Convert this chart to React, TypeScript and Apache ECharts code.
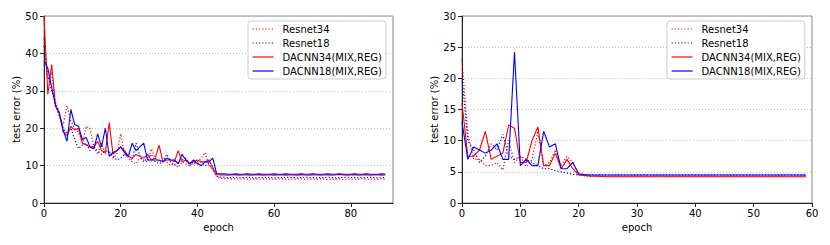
import React, { useEffect, useRef } from "react";
import * as echarts from "echarts";

const seriesNames = ["Resnet34", "Resnet18", "DACNN34(MIX,REG)", "DACNN18(MIX,REG)"];

// Left panel (epochs 0..89)
const leftResnet34 = [
  44, 33, 35, 26, 23, 21, 26, 22, 20, 19, 16, 20.5, 20, 15, 13, 16, 13, 14, 12, 13,
  18.5, 13, 12, 11, 10.5, 12, 11.5, 11, 14.5, 12, 11, 12, 11, 10, 10.5, 9.5, 11, 10.5, 10, 10.5,
  11, 12, 13.5, 10, 9, 7, 6.6, 6.5, 6.5, 6.4, 6.5, 6.4, 6.5, 6.4, 6.4, 6.5, 6.3, 6.4, 6.5, 6.4,
  6.3, 6.4, 6.5, 6.4, 6.3, 6.4, 6.4, 6.5, 6.3, 6.4, 6.4, 6.3, 6.5, 6.4, 6.3, 6.4, 6.4, 6.5, 6.3, 6.4,
  6.4, 6.3, 6.4, 6.5, 6.4, 6.3, 6.4, 6.4, 6.5, 6.3,
];
const leftResnet18 = [
  42, 34, 30, 27, 24, 20, 18.5, 20, 17, 14.5, 15.5, 16, 14, 15, 14, 13, 14, 13.5, 12.5, 11.5,
  12, 13, 12.5, 11.5, 16, 12.5, 11, 12, 13, 11, 10.5, 11, 13, 11, 10, 11, 11.5, 12, 10, 11,
  10.5, 11, 10, 10.5, 9, 7.2, 6.9, 6.9, 6.8, 6.8, 6.9, 6.8, 6.8, 6.9, 6.8, 6.7, 6.8, 6.8, 6.9, 6.8,
  6.7, 6.8, 6.8, 6.9, 6.8, 6.8, 6.7, 6.8, 6.9, 6.8, 6.8, 6.7, 6.8, 6.8, 6.9, 6.8, 6.7, 6.8, 6.8, 6.9,
  6.8, 6.8, 6.7, 6.8, 6.8, 6.9, 6.8, 6.7, 6.8, 6.8,
];
const leftDacnn34 = [
  50, 29, 37, 26, 24, 19, 18, 20.5, 19.5, 20, 16, 15.5, 15, 15, 16.5, 14, 13.5, 21.5, 13, 14,
  15, 14, 12.5, 12, 13, 12.5, 12, 13, 11.5, 12, 15.5, 11, 11.5, 11.5, 11, 14, 11, 11.5, 10.5, 11,
  11.5, 11, 11, 11.5, 9.5, 7.6, 7.5, 7.5, 7.4, 7.5, 7.5, 7.4, 7.5, 7.5, 7.4, 7.5, 7.5, 7.4, 7.5, 7.5,
  7.4, 7.5, 7.5, 7.4, 7.5, 7.5, 7.4, 7.5, 7.5, 7.4, 7.5, 7.5, 7.4, 7.5, 7.5, 7.4, 7.5, 7.6, 7.5, 7.4,
  7.5, 7.5, 7.4, 7.5, 7.5, 7.4, 7.5, 7.5, 7.4, 7.5,
];
const leftDacnn18 = [
  38, 36, 31, 26, 24, 19.5, 16.5, 25, 21, 20.5, 17, 17.5, 15, 14.5, 18.5, 15, 20, 12.5, 13.5, 14,
  15, 13.5, 12.5, 16, 14, 15, 16, 11.5, 11.5, 11.5, 11.5, 11, 12, 11.5, 11.5, 10.5, 13, 11.5, 10.5, 11.5,
  10.5, 10, 11, 11, 12, 7.9, 7.8, 7.8, 7.7, 7.7, 7.8, 7.7, 7.7, 7.8, 7.7, 7.7, 7.8, 7.7, 7.7, 7.7,
  7.8, 7.7, 7.7, 7.8, 7.7, 7.7, 7.7, 7.8, 7.7, 7.7, 7.8, 7.7, 7.7, 7.7, 7.8, 7.7, 7.7, 7.8, 7.7, 7.7,
  7.7, 7.8, 7.7, 7.7, 7.8, 7.7, 7.7, 7.7, 7.8, 7.7,
];

// Right panel (epochs 0..59)
const rightResnet34 = [
  23, 11, 7, 7, 6, 6, 6.5, 5.3, 10, 6.5, 7.5, 5.8, 7, 11.5, 6, 6.5, 8.5, 6, 7.5, 6.5,
  4.5, 4.35, 4.3, 4.3, 4.3, 4.25, 4.3, 4.3, 4.25, 4.3, 4.3, 4.3, 4.25, 4.3, 4.3, 4.3, 4.25, 4.3, 4.3, 4.3,
  4.25, 4.3, 4.3, 4.3, 4.25, 4.3, 4.3, 4.3, 4.25, 4.3, 4.3, 4.3, 4.25, 4.3, 4.3, 4.3, 4.25, 4.3, 4.3, 4.3,
];
const rightResnet18 = [
  20, 10, 8.5, 6.5, 7.5, 9.5, 8.5, 11, 7.5, 7, 7.5, 7, 6.5, 6, 5.5, 5.5, 5.2, 5, 4.8, 4.6,
  4.5, 4.5, 4.5, 4.5, 4.5, 4.5, 4.5, 4.5, 4.5, 4.5, 4.5, 4.5, 4.5, 4.5, 4.5, 4.5, 4.5, 4.5, 4.5, 4.5,
  4.5, 4.5, 4.5, 4.5, 4.5, 4.5, 4.5, 4.5, 4.5, 4.5, 4.5, 4.5, 4.5, 4.5, 4.5, 4.5, 4.5, 4.5, 4.5, 4.5,
];
const rightDacnn34 = [
  16, 7.5, 7.5, 8.5, 11.5, 7, 7.5, 8, 12.5, 12, 6.5, 6.5, 10, 12.2, 6, 6, 8, 5.5, 7, 5.5,
  4.5, 4.4, 4.3, 4.3, 4.25, 4.2, 4.2, 4.2, 4.2, 4.2, 4.2, 4.2, 4.2, 4.2, 4.2, 4.2, 4.2, 4.2, 4.2, 4.2,
  4.2, 4.2, 4.2, 4.2, 4.2, 4.2, 4.2, 4.2, 4.2, 4.2, 4.2, 4.2, 4.2, 4.2, 4.2, 4.2, 4.2, 4.2, 4.2, 4.2,
];
const rightDacnn18 = [
  13, 7, 9, 8.5, 8, 8.5, 9.5, 7, 7, 24.2, 6, 7, 6, 6, 11.5, 9, 9.5, 5.5, 5.5, 6.5,
  4.7, 4.55, 4.5, 4.5, 4.5, 4.5, 4.5, 4.5, 4.5, 4.5, 4.5, 4.5, 4.5, 4.5, 4.5, 4.5, 4.5, 4.5, 4.5, 4.5,
  4.5, 4.5, 4.5, 4.5, 4.5, 4.5, 4.5, 4.5, 4.5, 4.5, 4.5, 4.5, 4.5, 4.5, 4.5, 4.5, 4.5, 4.5, 4.5, 4.5,
];

const leftXTicks = [0, 20, 40, 60, 80];
const rightXTicks = [0, 10, 20, 30, 40, 50, 60];

const FONT = "DejaVu Sans";
const FS = 10;
const RED = "#ff0000";
const BLUE = "#0000ff";
const DOT: number[] = [1.2, 2];

const toPts = (arr: number[]) => arr.map((v, i) => [i, v]);

function mkSeries(name: string, data: number[], color: string, dotted: boolean, idx: number) {
  return {
    type: "line",
    name,
    data: toPts(data),
    xAxisIndex: idx,
    yAxisIndex: idx,
    symbol: "none",
    showSymbol: false,
    smooth: false,
    lineStyle: { color, width: dotted ? 1.2 : 1.1, type: dotted ? DOT : "solid" },
    itemStyle: { color },
  };
}

function xAxis(idx: number, max: number, ticks: number[]) {
  return {
    type: "value",
    gridIndex: idx,
    min: 0,
    max,
    name: "epoch",
    nameLocation: "middle",
    nameGap: 15,
    nameTextStyle: { fontFamily: FONT, fontSize: FS, color: "#000" },
    axisLine: { show: true, lineStyle: { color: "#222", width: 1 } },
    axisTick: { show: true, inside: false, length: 4, customValues: ticks, lineStyle: { color: "#222" } },
    axisLabel: { customValues: ticks, margin: 5, fontFamily: FONT, fontSize: FS, color: "#000" },
    splitLine: { show: false },
  };
}

function yAxis(idx: number, max: number, interval: number) {
  return {
    type: "value",
    gridIndex: idx,
    min: 0,
    max,
    interval,
    name: "test error (%)",
    nameLocation: "middle",
    nameGap: 21,
    nameTextStyle: { fontFamily: FONT, fontSize: FS, color: "#000" },
    axisLine: { show: true, lineStyle: { color: "#222", width: 1 } },
    axisTick: { show: true, inside: false, length: 4, lineStyle: { color: "#222" } },
    axisLabel: { margin: 6, fontFamily: FONT, fontSize: FS, color: "#000" },
    splitLine: { show: true, lineStyle: { color: "#b0b0b0", type: [1, 2], width: 0.8 } },
  };
}

function legend(left: number) {
  return {
    data: seriesNames,
    orient: "vertical",
    left,
    top: 21,
    itemWidth: 21,
    itemHeight: 11,
    itemGap: 4,
    padding: [3, 4, 3, 4],
    backgroundColor: "rgba(255,255,255,0.85)",
    borderColor: "#cccccc",
    borderWidth: 1,
    borderRadius: 3,
    itemStyle: { opacity: 0, borderWidth: 0 },
    lineStyle: { width: 1.2 },
    textStyle: { fontFamily: FONT, fontSize: FS, color: "#000", padding: [0, 0, 0, 4] },
  };
}

export default function App() {
  const ref = useRef<HTMLDivElement>(null);
  useEffect(() => {
    if (!ref.current) return;
    const chart = echarts.init(ref.current, null, { renderer: "svg" });
    chart.setOption({
      animation: false,
      backgroundColor: "#fff",
      grid: [
        { left: 44, right: 437, top: 16, bottom: 42, show: true, borderColor: "#888", borderWidth: 1, backgroundColor: "transparent" },
        { left: 462, right: 18, top: 16, bottom: 42, show: true, borderColor: "#888", borderWidth: 1, backgroundColor: "transparent" },
      ],
      xAxis: [xAxis(0, 91, leftXTicks), xAxis(1, 60, rightXTicks)],
      yAxis: [yAxis(0, 50, 10), yAxis(1, 30, 5)],
      legend: [legend(248), legend(667)],
      series: [
        mkSeries(seriesNames[0], leftResnet34, RED, true, 0),
        mkSeries(seriesNames[1], leftResnet18, BLUE, true, 0),
        mkSeries(seriesNames[2], leftDacnn34, RED, false, 0),
        mkSeries(seriesNames[3], leftDacnn18, BLUE, false, 0),
        mkSeries(seriesNames[0], rightResnet34, RED, true, 1),
        mkSeries(seriesNames[1], rightResnet18, BLUE, true, 1),
        mkSeries(seriesNames[2], rightDacnn34, RED, false, 1),
        mkSeries(seriesNames[3], rightDacnn18, BLUE, false, 1),
      ],
    });
    return () => chart.dispose();
  }, []);
  return (
    <div
      ref={ref}
      style={{ position: "fixed", left: 0, top: 0, width: 830, height: 245, background: "#fff" }}
    />
  );
}
